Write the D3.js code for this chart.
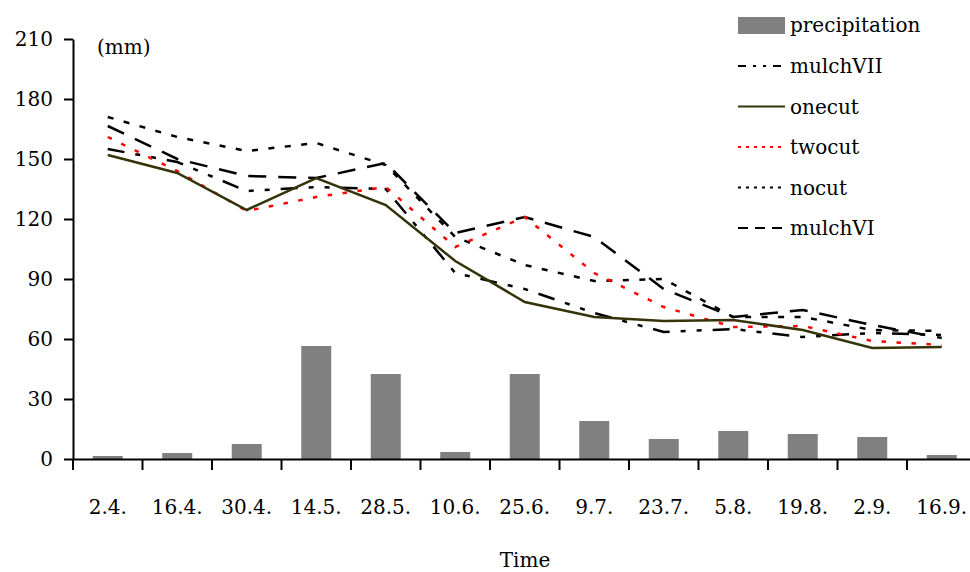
<!DOCTYPE html>
<html>
<head>
<meta charset="utf-8">
<script src="https://cdn.jsdelivr.net/npm/d3@7"></script>
<style>
  body { margin: 0; background: #fff; }
  svg text { font-family: "DejaVu Serif", serif; fill: #000; }
</style>
</head>
<body>
<script>
var dates = ["2.4.", "16.4.", "30.4.", "14.5.", "28.5.", "10.6.", "25.6.", "9.7.", "23.7.", "5.8.", "19.8.", "2.9.", "16.9."];
var precipitation = [1.5, 3, 7.5, 56.5, 42.5, 3.5, 42.5, 19, 10, 14, 12.5, 11, 2];
var mulchVII = [155, 148.5, 134, 136, 135, 93, 85, 73, 63.5, 65, 61, 63, 62];
var onecut = [152, 143, 124.5, 140.5, 127, 99, 78.5, 71, 69, 69.5, 64.5, 55.5, 56];
var twocut = [161, 144, 124, 131, 136, 106, 121, 93, 76, 66, 66.5, 59, 57];
var nocut = [171, 161, 154, 158, 147, 111, 97, 89, 90, 71, 71, 64.5, 64];
var mulchVI = [166.5, 150, 141.5, 140.5, 148, 113, 121, 111, 85, 71, 74.5, 67, 60.5];
var yTicks = [0, 30, 60, 90, 120, 150, 180, 210];

var series = [
    {name: "mulchVII", values: mulchVII, color: "#000", dash: "17,11,5,11,5,11"},
    {name: "onecut", values: onecut, color: "#35330a", dash: null},
    {name: "twocut", values: twocut, color: "#ff0000", dash: "4.5,10.5"},
    {name: "nocut", values: nocut, color: "#000", dash: "6,10.5"},
    {name: "mulchVI", values: mulchVI, color: "#000", dash: "18,12"}
];

var width = 970, height = 572;
var fs = "20px";

var svg = d3.select("body").append("svg")
    .attr("width", width)
    .attr("height", height);

var x = d3.scaleBand()
    .domain(dates)
    .range([73, 976.5]);

var y = d3.scaleLinear()
    .domain([0, 210])
    .range([459, 39]);

var bw = x.bandwidth();
var barW = 30;

// bars
svg.append("g").selectAll("rect")
    .data(precipitation)
    .enter().append("rect")
    .attr("x", function(d, i) { return x(dates[i]) + (bw - barW) / 2; })
    .attr("y", function(d) { return y(d); })
    .attr("width", barW)
    .attr("height", function(d) { return y(0) - y(d); })
    .attr("fill", "#808080");

// lines
var line = d3.line()
    .x(function(d, i) { return x(dates[i]) + bw / 2; })
    .y(function(d) { return y(d); });

var drawOrder = ["mulchVI", "nocut", "mulchVII", "twocut", "onecut"];
drawOrder.forEach(function(n) {
    var s = series.find(function(d) { return d.name === n; });
    svg.append("path")
        .datum(s.values)
        .attr("fill", "none")
        .attr("stroke", s.color)
        .attr("stroke-width", 2.5)
        .attr("stroke-dasharray", s.dash)
        .attr("d", line);
});

// y axis
var yAxis = svg.append("g")
    .attr("transform", "translate(73,0)")
    .call(d3.axisLeft(y).tickValues(yTicks).tickSize(9).tickPadding(11).tickSizeOuter(0));
yAxis.selectAll("path, line").attr("stroke", "#000").attr("stroke-width", 2);
yAxis.selectAll("text").style("font-size", fs).style("font-family", "DejaVu Serif, serif").attr("fill", "#000");

// x axis: labels at centres, ticks at band edges
var xAxis = svg.append("g")
    .attr("transform", "translate(0,459)")
    .call(d3.axisBottom(x).tickSize(0).tickPadding(41));
xAxis.select(".domain").attr("stroke", "#000").attr("stroke-width", 2);
xAxis.selectAll("text").style("font-size", fs).style("font-family", "DejaVu Serif, serif").attr("fill", "#000");

svg.append("g").selectAll("line")
    .data(dates)
    .enter().append("line")
    .attr("x1", function(d) { return x(d); })
    .attr("x2", function(d) { return x(d); })
    .attr("y1", 459)
    .attr("y2", 470)
    .attr("stroke", "#000")
    .attr("stroke-width", 2);

svg.append("text")
    .attr("x", 97)
    .attr("y", 54)
    .style("font-size", fs)
    .text("(mm)");

svg.append("text")
    .attr("x", 525)
    .attr("y", 567)
    .attr("text-anchor", "middle")
    .style("font-size", fs)
    .text("Time");

// legend
var legend = svg.append("g");
legend.append("rect")
    .attr("x", 738).attr("y", 17)
    .attr("width", 47).attr("height", 17)
    .attr("fill", "#808080");
legend.append("text")
    .attr("x", 790).attr("y", 32)
    .style("font-size", fs)
    .text("precipitation");

series.forEach(function(s, i) {
    var ly = 66 + i * 40.5;
    legend.append("line")
        .attr("x1", 738).attr("x2", 785)
        .attr("y1", ly).attr("y2", ly)
        .attr("stroke", s.color)
        .attr("stroke-width", 2)
        .attr("stroke-dasharray", s.name === "mulchVII" ? "8,7,3,7,3,7" : s.name === "mulchVI" ? "10,7" : s.dash ? "3,5" : null);
    legend.append("text")
        .attr("x", 790).attr("y", ly + 7)
        .style("font-size", fs)
        .text(s.name);
});
</script>
</body>
</html>
